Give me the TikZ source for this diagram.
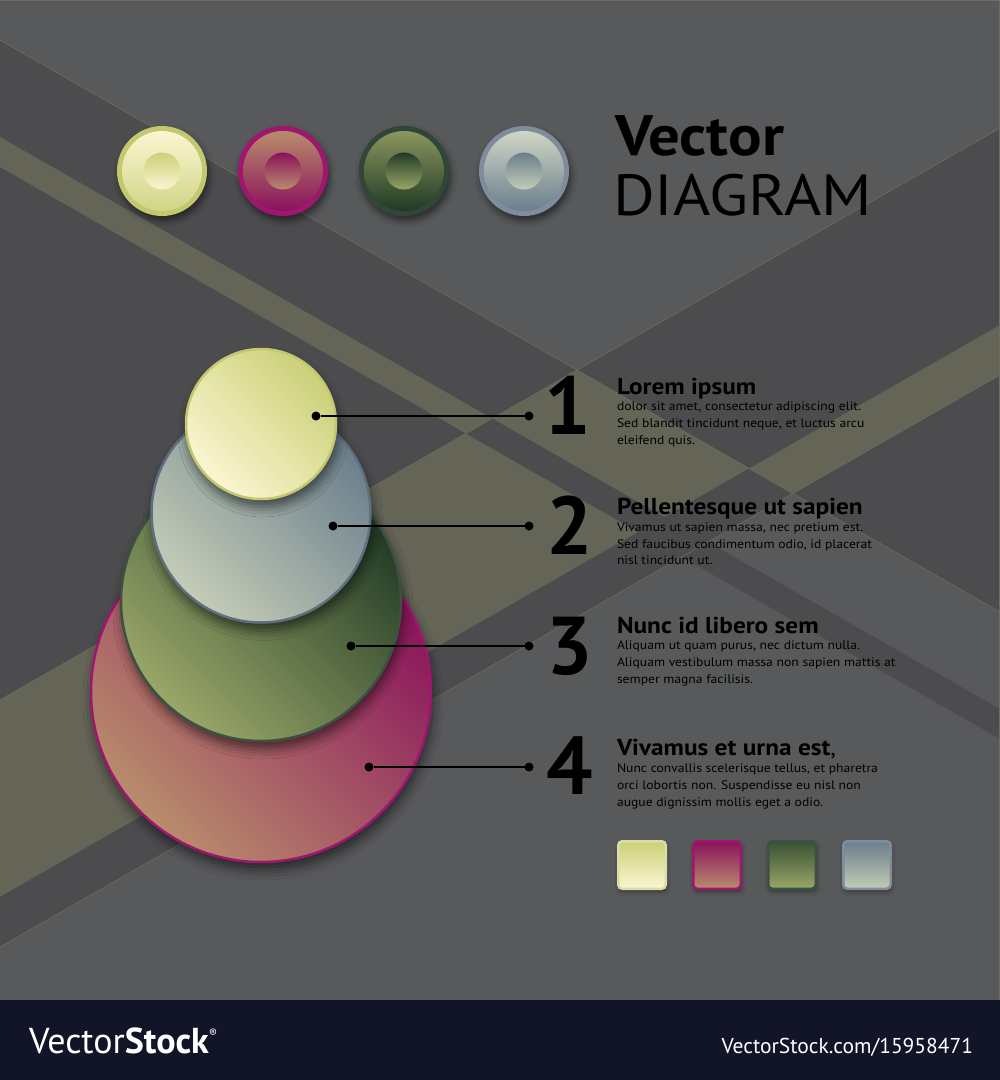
\documentclass[tikz,border=0pt]{standalone}
\usepackage{fontspec}
\usepackage{graphicx}
\setmainfont{PT Sans}[FakeStretch=1.1]
\newfontfamily\numfont{PT Sans}
\usepackage{tikz}
\usepackage{xcolor}
\definecolor{bglight}{HTML}{58595B}
\definecolor{bgdark}{HTML}{4C4C4F}
\definecolor{bgolive}{HTML}{646457}
\definecolor{bgline}{HTML}{6E6E5E}
\definecolor{footcolor}{HTML}{121428}
\definecolor{yellowlight}{HTML}{FBF6D2}
\definecolor{yellowdark}{HTML}{CBD077}
\definecolor{yellowrim}{HTML}{C3C76E}
\definecolor{rosylight}{HTML}{B98C6C}
\definecolor{rosydark}{HTML}{8A125C}
\definecolor{rosyrim}{HTML}{9E1670}
\definecolor{greenlight}{HTML}{9AA769}
\definecolor{greendark}{HTML}{213A25}
\definecolor{greenrim}{HTML}{3A5242}
\definecolor{greylight}{HTML}{C4CCB6}
\definecolor{greydark}{HTML}{6A7E8C}
\definecolor{greyrim}{HTML}{5F6F82}
\usetikzlibrary{
  shadows.blur,
}

\begin{document}
\begin{tikzpicture}[x=1pt, y=-1pt]
	\tikzstyle{every node}=[inner sep=0pt, outer sep=0pt]
	\tikzstyle{disc}=[circle, line width=2.5pt, shading angle=-45, blur shadow={shadow xshift=2pt, shadow yshift=-8pt, shadow blur radius=10pt, shadow opacity=55}]
	\tikzstyle{btnring}=[circle, minimum size=90pt, blur shadow={shadow xshift=2pt, shadow yshift=-5pt, shadow blur radius=6pt, shadow opacity=50}]
	\tikzstyle{btnface}=[circle, minimum size=80pt]
	\tikzstyle{btnhole}=[circle, minimum size=37pt]
	\tikzstyle{swatch}=[rectangle, rounded corners=4pt, minimum size=47.5pt, line width=2.5pt, blur shadow={shadow xshift=1pt, shadow yshift=-3pt, shadow blur radius=4pt, shadow opacity=40}]
	\tikzstyle{dot}=[circle, fill=black, minimum size=9pt]
	\tikzstyle{leader}=[line width=1.6pt, black]
	\tikzstyle{bignum}=[anchor=base, font=\numfont\fontsize{82}{82}\selectfont\bfseries]
	\tikzstyle{heading}=[anchor=base west, font=\fontsize{23}{26}\selectfont\bfseries]
	\tikzstyle{bodyline}=[anchor=base west, font=\fontsize{12.4}{14}\selectfont, text=black]
	\useasboundingbox (0,0) rectangle (1000,1080);
	% background bands
	\fill[bglight] (0,0) rectangle (1000,1000);
	\fill[bgdark] (0,40) -- (577,370) -- (0,700) -- cycle;
	\fill[bgdark] (1000,128) -- (577,370) -- (1000,612) -- cycle;
	\fill[bgolive] (577,370) -- (749,468.5) -- (0,897) -- (0,700) -- cycle;
	\fill[bgdark] (0,897) -- (1000,325) -- (1000,375) -- (0,947) -- cycle;
	\begin{scope}
		\clip (0,0) -- (0,40) -- (1000,612) -- (1000,0) -- cycle;
		\fill[bgolive] (0,897) -- (1000,325) -- (1000,375) -- (0,947) -- cycle;
	\end{scope}
	\fill[bgdark] (0,137) -- (1000,709) -- (1000,739) -- (0,167) -- cycle;
	\begin{scope}
		\clip (0,0) -- (0,700) -- (1000,128) -- (1000,0) -- cycle;
		\fill[bgolive] (0,137) -- (1000,709) -- (1000,739) -- (0,167) -- cycle;
	\end{scope}
	\draw[bgline, line width=0.6pt] (0,40) -- (1000,612);
	\draw[bgline, line width=0.6pt] (0,700) -- (1000,128);
	\draw[bgline, line width=0.6pt] (0,947) -- (1000,375);
	\draw[bgline, line width=1.5pt] (0,0.5) -- (999.5,0.5) -- (999.5,1000);
	% buttons
	\node[btnring, fill=yellowrim] (btn1) at (162,171) {};
	\node[btnface, top color=yellowlight, bottom color=yellowdark!90!white] (btn1face) at (btn1) {};
	\node[btnhole, top color=yellowdark, bottom color=yellowlight] (btn1hole) at (btn1) {};
	\node[btnring, fill=rosyrim] (btn2) at (283,171) {};
	\node[btnface, top color=rosylight, bottom color=rosydark] (btn2face) at (btn2) {};
	\node[btnhole, top color=rosydark, bottom color=rosylight] (btn2hole) at (btn2) {};
	\node[btnring, fill=greenrim!85!black] (btn3) at (404,171) {};
	\node[btnface, top color=greenlight!90!black, bottom color=greendark] (btn3face) at (btn3) {};
	\node[btnhole, top color=greendark, bottom color=greenlight] (btn3hole) at (btn3) {};
	\node[btnring, fill=greyrim!80!white] (btn4) at (524,171) {};
	\node[btnface, top color=greylight!80!white, bottom color=greydark] (btn4face) at (btn4) {};
	\node[btnhole, top color=greydark, bottom color=greylight] (btn4hole) at (btn4) {};
	% title
	\node[anchor=base west, font=\fontsize{57}{57}\selectfont\bfseries] (title) at (615,155) {Vector};
	\node[anchor=base west, font=\fontsize{58}{58}\selectfont] (subtitle) at (613,215) {DIAGRAM};
	% stacked discs
	\node[draw=rosyrim, top color=rosydark, bottom color=rosylight, disc, minimum size=340pt] (disc4) at (261,692) {};
	\node[draw=greenrim, top color=greendark, bottom color=greenlight, disc, minimum size=280pt] (disc3) at (261,601) {};
	\node[draw=greyrim, top color=greydark, bottom color=greylight, disc, minimum size=219pt] (disc2) at (261,513) {};
	\node[draw=yellowrim, top color=yellowdark, bottom color=yellowlight, disc, minimum size=150pt] (disc1) at (261,424) {};
	% leaders
	\node[dot] (dot1a) at (316,416) {};
	\node[dot] (dot1b) at (529,416) {};
	\draw[leader] (dot1a) -- (dot1b);
	\node[dot] (dot2a) at (333,526) {};
	\node[dot] (dot2b) at (529,526) {};
	\draw[leader] (dot2a) -- (dot2b);
	\node[dot] (dot3a) at (351,646) {};
	\node[dot] (dot3b) at (529,646) {};
	\draw[leader] (dot3a) -- (dot3b);
	\node[dot] (dot4a) at (369,767) {};
	\node[dot] (dot4b) at (529,767) {};
	\draw[leader] (dot4a) -- (dot4b);
	% numbers
	\node[bignum] (num1) at (568,434) {1};
	\node[bignum] (num2) at (570,554) {2};
	\node[bignum] (num3) at (570,674) {3};
	\node[bignum] (num4) at (570,794) {4};
	% texts
	\node[heading] (head1) at (617,394) {Lorem ipsum};
	\node[bodyline] (text1a) at (617,410) {dolor sit amet, consectetur adipiscing elit.};
	\node[bodyline] (text1b) at (617,427) {Sed blandit tincidunt neque, et luctus arcu};
	\node[bodyline] (text1c) at (617,444) {eleifend quis.};
	\node[heading] (head2) at (617,514) {Pellentesque ut sapien};
	\node[bodyline] (text2a) at (617,531) {Vivamus ut sapien massa, nec pretium est.};
	\node[bodyline] (text2b) at (617,548) {Sed faucibus condimentum odio, id placerat};
	\node[bodyline] (text2c) at (617,564) {nisl tincidunt ut.};
	\node[heading] (head3) at (617,633) {Nunc id libero sem};
	\node[bodyline] (text3a) at (617,649) {Aliquam ut quam purus, nec dictum nulla.};
	\node[bodyline] (text3b) at (617,666) {Aliquam vestibulum massa non sapien mattis at};
	\node[bodyline] (text3c) at (617,683) {semper magna facilisis.};
	\node[heading] (head4) at (617,755) {Vivamus et urna est\textmd{,}};
	\node[bodyline] (text4a) at (617,772) {Nunc convallis scelerisque tellus, et pharetra};
	\node[bodyline] (text4b) at (617,789) {orci lobortis non. Suspendisse eu nisl non};
	\node[bodyline] (text4c) at (617,806) {augue dignissim mollis eget a odio.};
	% swatches
	\node[swatch, draw=yellowrim!60!white, top color=yellowdark, bottom color=yellowlight] (sw1) at (642,865) {};
	\node[swatch, draw=rosyrim, top color=rosydark, bottom color=rosylight] (sw2) at (717,865) {};
	\node[swatch, draw=greenrim, top color=greendark!80!greenlight, bottom color=greenlight] (sw3) at (792,865) {};
	\node[swatch, draw=greyrim!80!white, top color=greydark, bottom color=greylight] (sw4) at (867,865) {};
	% footer
	\fill[footcolor] (0,1000) rectangle (1000,1080);
	\node[anchor=base west, text=white, font=\numfont\fontsize{36}{36}\selectfont] (brand) at (29,1053) {Vector\textbf{Stock}\raisebox{16pt}{\fontsize{12}{12}\selectfont\textregistered}};
	\node[anchor=base east, text=white, font=\numfont\fontsize{21.5}{22}\selectfont] (stockid) at (973,1053) {VectorStock.com/15958471};
\end{tikzpicture}
\end{document}
